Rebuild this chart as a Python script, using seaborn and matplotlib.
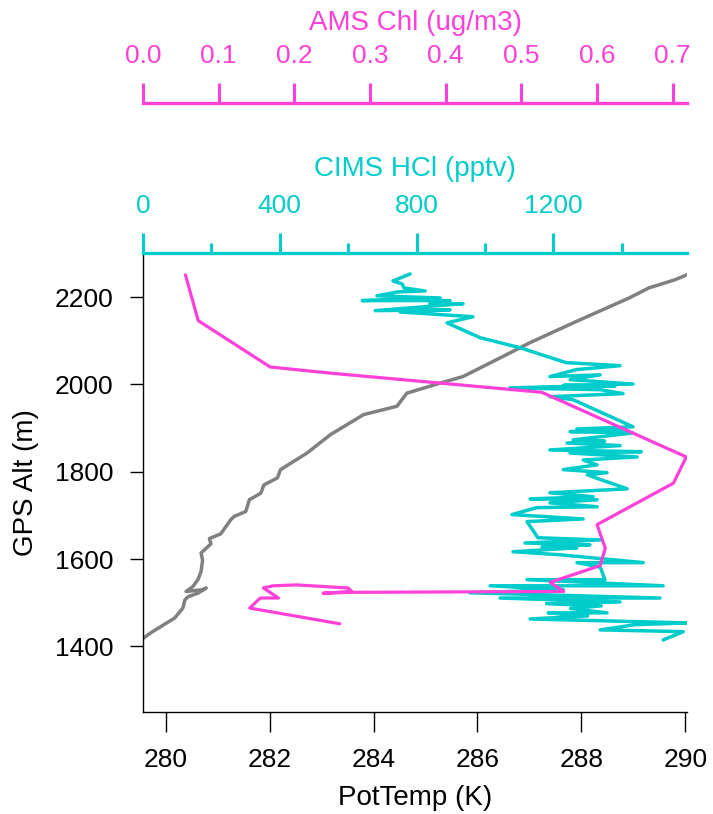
import pandas as pd
import seaborn as sns
import matplotlib.pyplot as plt
from matplotlib.ticker import MultipleLocator, FormatStrFormatter

# potential temperature profile
temp_k = [279.57, 279.72, 280.17, 280.33, 280.37, 280.43, 280.62, 280.78, 280.71, 280.39,
          280.52, 280.62, 280.68, 280.71, 280.68, 280.87, 280.84, 281.06, 281.25, 281.32,
          281.54, 281.61, 281.83, 281.89, 282.15, 282.21, 282.72, 283.17, 283.81, 284.45,
          284.64, 285.28, 285.72, 286.49, 287.00, 287.90, 288.92, 289.30, 289.81, 290.03]
temp_alt = [1419, 1432, 1465, 1488, 1507, 1514, 1522, 1534, 1530, 1526,
            1537, 1553, 1572, 1598, 1614, 1635, 1647, 1658, 1690, 1698,
            1709, 1736, 1751, 1770, 1786, 1805, 1843, 1885, 1931, 1950,
            1980, 2003, 2018, 2064, 2095, 2144, 2198, 2221, 2240, 2251]

# CIMS HCl
hcl_pptv = [781, 731, 758, 763, 825, 746, 684, 869, 641, 898,
            839, 936, 679, 898, 752, 965, 889, 986, 1103, 1237,
            1395, 1267, 1190, 1337, 1249, 1433, 1230, 1380, 1208, 1073,
            1337, 1404, 1190, 1258, 1433, 1269, 1413, 1249, 1433, 1258,
            1350, 1240, 1395, 1190, 1457, 1249, 1445, 1287, 1328, 1229,
            1357, 1299, 1416, 1190, 1316, 1132, 1328, 1190, 1328, 1152,
            1079, 1287, 1123, 1155, 1337, 1117, 1307, 1167, 1269, 1082,
            1220, 1463, 1269, 1337, 1351, 1123, 1521, 1015, 1229, 956,
            1512, 1044, 1395, 1180, 1340, 1250, 1357, 1185, 1300, 1132,
            1590, 1440, 1337, 1580, 1521]
hcl_alt = [2253, 2237, 2230, 2221, 2214, 2212, 2203, 2198, 2192, 2192,
           2185, 2185, 2169, 2171, 2166, 2155, 2141, 2107, 2084, 2050,
           2043, 2034, 2018, 2022, 2011, 2001, 1998, 1996, 1995, 1992,
           1988, 1979, 1972, 1965, 1903, 1898, 1894, 1892, 1889, 1873,
           1870, 1866, 1860, 1850, 1846, 1843, 1834, 1827, 1816, 1805,
           1798, 1793, 1761, 1752, 1743, 1738, 1736, 1729, 1720, 1718,
           1702, 1692, 1686, 1649, 1644, 1637, 1633, 1628, 1626, 1617,
           1610, 1592, 1592, 1582, 1553, 1553, 1539, 1539, 1530, 1523,
           1511, 1511, 1502, 1498, 1493, 1487, 1477, 1477, 1470, 1463,
           1454, 1450, 1438, 1434, 1415]

# AMS chloride
chl_ugm3 = [0.260, 0.141, 0.155, 0.179, 0.159, 0.172, 0.203, 0.271, 0.276, 0.238,
            0.274, 0.556, 0.538, 0.604, 0.611, 0.600, 0.701, 0.718, 0.527, 0.247,
            0.168, 0.073, 0.056]
chl_alt = [1452, 1488, 1511, 1511, 1534, 1539, 1541, 1534, 1526, 1522,
           1524, 1526, 1547, 1585, 1625, 1679, 1774, 1834, 1982, 2026,
           2040, 2146, 2251]

gray = '#808080'
cyan = '#00cccc'
pink = '#ff40d9'

sns.set_style('ticks')
plt.rcParams['font.family'] = ['Liberation Sans', 'DejaVu Sans']
plt.rcParams['text.color'] = 'black'
plt.rcParams['axes.labelcolor'] = 'black'
plt.rcParams['xtick.color'] = 'black'
plt.rcParams['ytick.color'] = 'black'

fig = plt.figure(figsize=(7.13, 8.14), dpi=100)
ax = fig.add_axes([0.2006, 0.1253, 0.763, 0.5639])
ax2 = ax.twiny()
ax3 = ax.twiny()

sns.lineplot(x=temp_k, y=temp_alt, sort=False, estimator=None, color=gray, lw=2.5, ax=ax)
sns.lineplot(x=hcl_pptv, y=hcl_alt, sort=False, estimator=None, color=cyan, lw=2.5, ax=ax2)
sns.lineplot(x=chl_ugm3, y=chl_alt, sort=False, estimator=None, color=pink, lw=2.3, ax=ax3)

ax.set_xlim(279.563, 290.035)
ax.set_ylim(1250, 2301)
ax2.set_xlim(0, 1591)
ax3.set_xlim(0, 0.719)

# main axes
for s in ['top', 'right']:
    ax.spines[s].set_visible(False)
for s in ['left', 'bottom']:
    ax.spines[s].set_color('black')
    ax.spines[s].set_linewidth(1)
ax.xaxis.set_major_locator(MultipleLocator(2))
ax.set_yticks([1400, 1600, 1800, 2000, 2200])
ax.tick_params(axis='x', direction='out', length=14.2, width=1, pad=12, color='black',
               labelcolor='black', labelsize=19)
ax.tick_params(axis='y', direction='out', length=9.4, width=1, pad=12, color='black',
               labelcolor='black', labelsize=19)
ax.set_xlabel('PotTemp (K)', fontsize=20, labelpad=9)
ax.set_ylabel('GPS Alt (m)', fontsize=20, labelpad=11)

# HCl axis on top
for s in ['left', 'right', 'bottom']:
    ax2.spines[s].set_visible(False)
ax2.spines['top'].set_color(cyan)
ax2.spines['top'].set_linewidth(2.4)
ax2.xaxis.set_major_locator(MultipleLocator(400))
ax2.xaxis.set_minor_locator(MultipleLocator(200))
ax2.tick_params(axis='x', which='major', direction='out', length=14.4, width=2.2, pad=11,
                color=cyan, labelcolor=cyan, labelsize=19)
ax2.tick_params(axis='x', which='minor', direction='out', length=7.3, width=2.2, color=cyan)
ax2.set_xlabel('CIMS HCl (pptv)', color=cyan, fontsize=20, labelpad=13)

# Chl axis offset further up
for s in ['left', 'right', 'bottom']:
    ax3.spines[s].set_visible(False)
ax3.spines['top'].set_position(('outward', 108))
ax3.spines['top'].set_color(pink)
ax3.spines['top'].set_linewidth(2.4)
ax3.xaxis.set_major_locator(MultipleLocator(0.1))
ax3.xaxis.set_major_formatter(FormatStrFormatter('%.1f'))
ax3.tick_params(axis='x', which='major', direction='out', length=14.4, width=2.2, pad=11,
                color=pink, labelcolor=pink, labelsize=19)
ax3.set_xlabel('AMS Chl (ug/m3)', color=pink, fontsize=20, labelpad=10)

fig.savefig('out.png', dpi=100)
